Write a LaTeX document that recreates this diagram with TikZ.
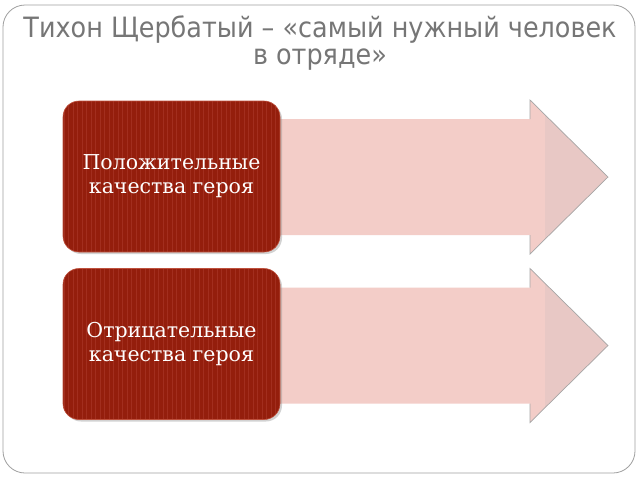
\documentclass[tikz,border=0pt]{standalone}
\usepackage{fontspec}
\setmainfont{DejaVu Serif}
\newfontfamily\titlefont[FakeStretch=0.91]{DejaVu Sans}
\usetikzlibrary{shadows}
\definecolor{boxred}{RGB}{148,30,12}
\definecolor{stripered}{RGB}{162,46,30}
\definecolor{rimred}{RGB}{190,80,60}
\definecolor{arrowpink}{RGB}{243,205,200}
\definecolor{headpink}{RGB}{232,200,197}
\definecolor{titlegray}{RGB}{118,118,118}

\begin{document}
\begin{tikzpicture}[x=1pt,y=-1pt]
  \tikzset{qualbox/.style={rounded corners=16pt,fill=boxred,draw=rimred,line width=0.6pt,
                           minimum width=217pt,minimum height=151pt,inner sep=0pt,
                           align=center,text=white,font=\fontsize{20.5}{24}\selectfont,
                           drop shadow={shadow xshift=2pt,shadow yshift=-2pt,opacity=0.35},
                           path picture={\foreach \i in {0,...,48}
                             \draw[stripered,line width=0.6pt] ([xshift=\i*4.5pt+1pt]path picture bounding box.north west)
                                                          -- ([xshift=\i*4.5pt+1pt]path picture bounding box.south west);}},
           headedge/.style={draw=gray!70,line width=0.7pt}}
  \useasboundingbox[fill=white] (0,0) rectangle (640,480);
  \draw[gray!75,line width=0.8pt,rounded corners=22pt] (3,5) rectangle (635,473);
  \node[font=\titlefont\fontsize{28}{27}\selectfont,text=titlegray,align=center] (title) at (320,43)
    {Тихон Щербатый – «самый нужный человек\\в отряде»};
  % arrows behind the boxes
  \foreach \c in {177,345.5} {
    \fill[arrowpink] (270,\c-58) -- (530,\c-58) -- (530,\c-77) -- (608,\c) -- (530,\c+77) -- (530,\c+58) -- (270,\c+58) -- cycle;
    \fill[headpink] (545,\c-62) -- (608,\c) -- (545,\c+62) -- cycle;
    \draw[headedge] (530,\c-58) -- (530,\c-77) -- (608,\c) -- (530,\c+77) -- (530,\c+58);
  }
  \node[qualbox] (pos) at (171.5,176.5) {Положительные\\качества героя};
  \node[qualbox] (neg) at (171.5,344) {Отрицательные\\качества героя};
\end{tikzpicture}
\end{document}
